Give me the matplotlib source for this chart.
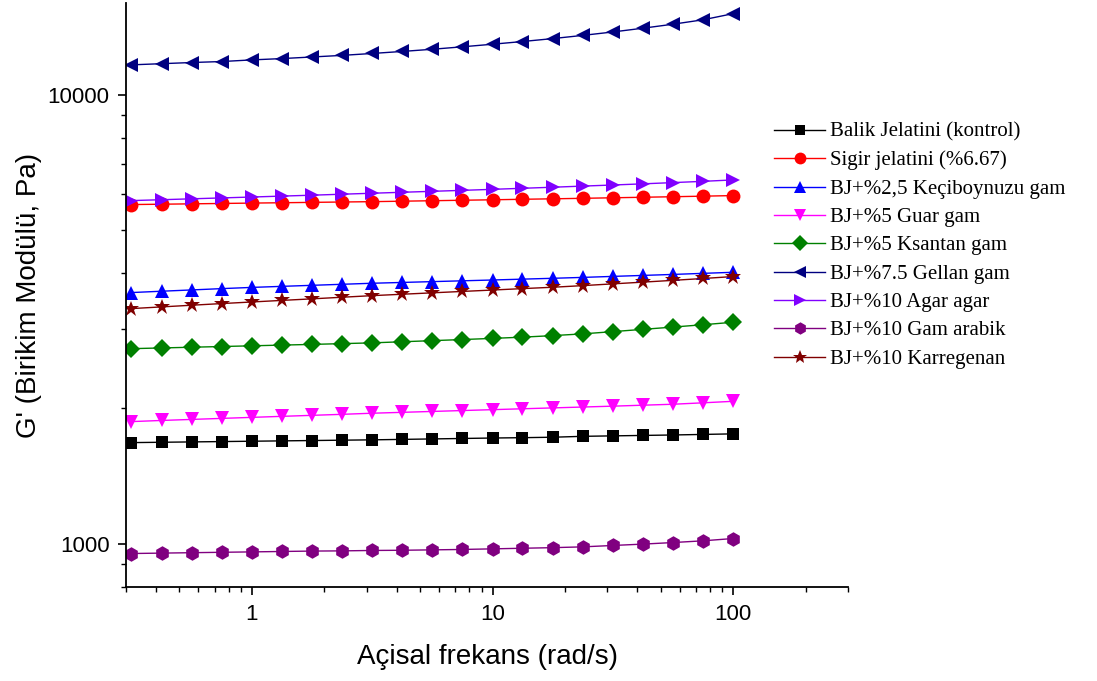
import numpy as np
import matplotlib
matplotlib.use("Agg")
from matplotlib import pyplot as plt
from matplotlib.ticker import LogLocator, NullFormatter, FuncFormatter

# angular frequency, 8 points per decade from 0.316 to 100 rad/s
freq = [0.316, 0.422, 0.562, 0.750, 1.0, 1.33, 1.78, 2.37, 3.16, 4.22, 5.62,
        7.50, 10.0, 13.3, 17.8, 23.7, 31.6, 42.2, 56.2, 75.0, 100.0]

balik = [1678, 1681, 1684, 1687, 1690, 1693, 1696, 1699, 1702, 1706, 1710,
         1714, 1718, 1721, 1725, 1733, 1737, 1741, 1745, 1750, 1755]
sigir = [5690, 5700, 5711, 5722, 5733, 5743, 5754, 5765, 5775, 5789, 5803,
         5817, 5831, 5846, 5860, 5875, 5891, 5907, 5923, 5940, 5958]
keci = [3623, 3648, 3672, 3697, 3720, 3740, 3760, 3780, 3800, 3816, 3832,
        3848, 3864, 3881, 3898, 3916, 3936, 3956, 3976, 3998, 4020]
guar = [1869, 1880, 1890, 1900, 1910, 1920, 1930, 1940, 1951, 1960, 1969,
        1978, 1987, 1996, 2005, 2014, 2023, 2033, 2043, 2058, 2074]
ksantan = [2717, 2727, 2737, 2747, 2757, 2767, 2777, 2788, 2799, 2815, 2831,
           2847, 2864, 2882, 2905, 2931, 2965, 3000, 3035, 3072, 3111]
gellan = [11650, 11720, 11790, 11850, 11950, 12030, 12130, 12230, 12350, 12480, 12620,
          12780, 12950, 13130, 13330, 13550, 13790, 14060, 14350, 14680, 15150]
agar = [5807, 5833, 5860, 5887, 5914, 5942, 5970, 6000, 6030, 6060, 6090,
        6120, 6152, 6185, 6219, 6255, 6290, 6328, 6368, 6410, 6456]
arabik = [950, 952, 954, 956, 958, 960, 962, 963, 965, 966, 968,
          970, 973, 976, 979, 983, 990, 997, 1005, 1014, 1026]
karregenan = [3337, 3366, 3395, 3424, 3452, 3480, 3508, 3537, 3566, 3592, 3618,
              3644, 3670, 3697, 3723, 3754, 3788, 3822, 3857, 3894, 3933]

series = [
    ("Balik Jelatini (kontrol)", balik, "#000000", "s", 9),
    ("Sigir jelatini (%6.67)", sigir, "#FF0000", "o", 10),
    ("BJ+%2,5 Keçiboynuzu gam", keci, "#0000FF", "^", 10.5),
    ("BJ+%5 Guar gam", guar, "#FF00FF", "v", 10.5),
    ("BJ+%5 Ksantan gam", ksantan, "#008000", "D", 9),
    ("BJ+%7.5 Gellan gam", gellan, "#000080", "<", 10.5),
    ("BJ+%10 Agar agar", agar, "#8000FF", ">", 10.5),
    ("BJ+%10 Gam arabik", arabik, "#800080", "h", 10.5),
    ("BJ+%10 Karregenan", karregenan, "#800000", "*", 12),
]

plt.rcParams['font.family'] = ['Liberation Sans', 'DejaVu Sans']

fig = plt.figure(figsize=(10.97, 6.81), dpi=100)
ax = fig.add_axes([0.1149, 0.138, 0.773 - 0.1149, 0.9956 - 0.138])

for label, vals, col, mk, ms in series:
    ax.plot(freq, vals, color=col, marker=mk, markersize=ms, linewidth=1.0,
            markeredgewidth=0, label=label)

ax.set_xscale("log")
ax.set_yscale("log")
ax.set_xlim(0.3, 300)
ax.set_ylim(800, 16000)

for s in ["top", "right"]:
    ax.spines[s].set_visible(False)
for s in ["left", "bottom"]:
    ax.spines[s].set_linewidth(1.3)

ax.xaxis.set_major_locator(LogLocator(base=10))
ax.xaxis.set_minor_locator(LogLocator(base=10, subs=np.arange(2, 10)))
ax.yaxis.set_major_locator(LogLocator(base=10))
ax.yaxis.set_minor_locator(LogLocator(base=10, subs=np.arange(2, 10)))
fmt = FuncFormatter(lambda v, p: "%g" % v)
ax.xaxis.set_major_formatter(fmt)
ax.yaxis.set_major_formatter(fmt)
ax.xaxis.set_minor_formatter(NullFormatter())
ax.yaxis.set_minor_formatter(NullFormatter())
ax.tick_params(which="major", direction="out", length=6, width=1.2, labelsize=16, pad=6)
ax.tick_params(which="minor", direction="out", length=3.5, width=1.0)

ax.set_xlabel("Açisal frekans (rad/s)", fontsize=20, labelpad=14)
ax.set_ylabel("G' (Birikim Modülü, Pa)", fontsize=20, labelpad=4)

leg = fig.legend(loc="upper left", bbox_to_anchor=(0.698, 0.8325), frameon=False,
                 prop={"family": "Liberation Serif", "size": 15},
                 handlelength=2.45, handletextpad=0.25, labelspacing=0.42,
                 markerscale=0.85, borderaxespad=0)

fig.savefig("out.png", dpi=100)
